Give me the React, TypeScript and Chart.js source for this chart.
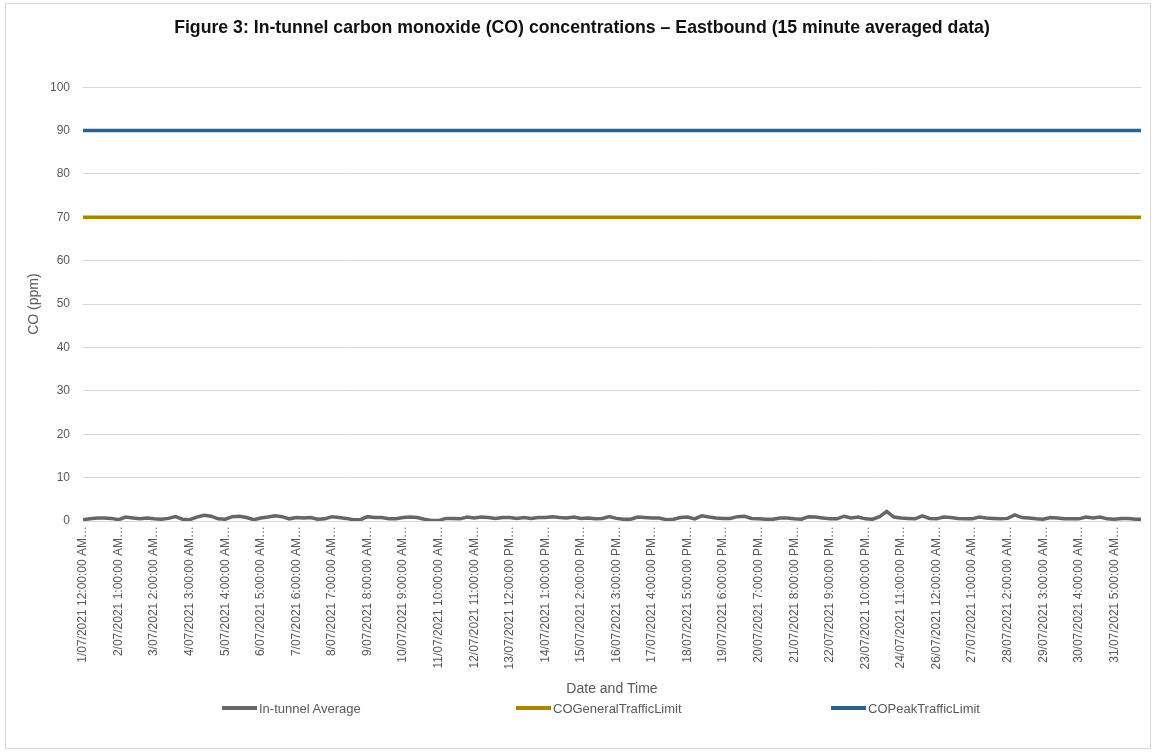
import { useEffect, useRef } from "react";
import { Chart, registerables } from "chart.js";

Chart.register(...registerables);

// ---------- data ----------
const xTickLabels = [
  "1/07/2021 12:00:00 AM",
  "2/07/2021 1:00:00 AM",
  "3/07/2021 2:00:00 AM",
  "4/07/2021 3:00:00 AM",
  "5/07/2021 4:00:00 AM",
  "6/07/2021 5:00:00 AM",
  "7/07/2021 6:00:00 AM",
  "8/07/2021 7:00:00 AM",
  "9/07/2021 8:00:00 AM",
  "10/07/2021 9:00:00 AM",
  "11/07/2021 10:00:00 AM",
  "12/07/2021 11:00:00 AM",
  "13/07/2021 12:00:00 PM",
  "14/07/2021 1:00:00 PM",
  "15/07/2021 2:00:00 PM",
  "16/07/2021 3:00:00 PM",
  "17/07/2021 4:00:00 PM",
  "18/07/2021 5:00:00 PM",
  "19/07/2021 6:00:00 PM",
  "20/07/2021 7:00:00 PM",
  "21/07/2021 8:00:00 PM",
  "22/07/2021 9:00:00 PM",
  "23/07/2021 10:00:00 PM",
  "24/07/2021 11:00:00 PM",
  "26/07/2021 12:00:00 AM",
  "27/07/2021 1:00:00 AM",
  "28/07/2021 2:00:00 AM",
  "29/07/2021 3:00:00 AM",
  "30/07/2021 4:00:00 AM",
  "31/07/2021 5:00:00 AM",
];

// quarter-hour samples between consecutive axis labels (25 hours)
const samplesPerLabel = 100;
// quarter-hour samples between the read-off values below (5 hours)
const samplesPerReading = 20;
// index of the final 15-minute sample in July 2021
const lastSample = 2975;

// In-tunnel average CO (ppm), read every 5 hours from the picture
const inTunnelAverage = [
  0.3, 0.5, 0.7, 0.7, 0.6, 0.3, 0.9, 0.7, 0.5, 0.7,
  0.5, 0.4, 0.6, 1.0, 0.4, 0.3, 0.9, 1.3, 1.1, 0.5,
  0.4, 1.0, 1.1, 0.8, 0.3, 0.7, 0.9, 1.2, 1.0, 0.5,
  0.8, 0.7, 0.8, 0.4, 0.5, 1.0, 0.8, 0.6, 0.3, 0.3,
  1.0, 0.8, 0.8, 0.5, 0.5, 0.8, 0.9, 0.8, 0.4, 0.1,
  0.1, 0.6, 0.6, 0.5, 0.9, 0.7, 0.9, 0.8, 0.6, 0.8,
  0.8, 0.6, 0.8, 0.6, 0.8, 0.8, 1.0, 0.8, 0.7, 0.9,
  0.6, 0.7, 0.5, 0.6, 1.0, 0.6, 0.4, 0.4, 0.9, 0.8,
  0.7, 0.7, 0.3, 0.4, 0.8, 0.9, 0.5, 1.2, 0.9, 0.7,
  0.6, 0.6, 1.0, 1.1, 0.6, 0.5, 0.4, 0.4, 0.7, 0.7,
  0.5, 0.4, 1.0, 0.9, 0.7, 0.5, 0.5, 1.1, 0.7, 0.9,
  0.5, 0.4, 1.0, 2.2, 0.9, 0.7, 0.6, 0.5, 1.2, 0.6,
  0.5, 0.9, 0.8, 0.6, 0.5, 0.5, 0.9, 0.7, 0.6, 0.5,
  0.6, 1.4, 0.8, 0.7, 0.5, 0.4, 0.8, 0.7, 0.5, 0.5,
  0.5, 0.9, 0.7, 0.9, 0.5, 0.4, 0.6, 0.6, 0.4, 0.4,
];

const generalTrafficLimit = 70;
const peakTrafficLimit = 90;

const seriesNames = ["In-tunnel Average", "COGeneralTrafficLimit", "COPeakTrafficLimit"];
const seriesColors = ["#666666", "#AD8400", "#29618F"];

const titleText =
  "Figure 3: In-tunnel carbon monoxide (CO) concentrations \u2013 Eastbound (15 minute averaged data)";
const xTitle = "Date and Time";
const yTitle = "CO (ppm)";

const yMin = 0;
const yMax = 100;
const yStep = 10;

// ---------- styles ----------
const FONT = '"Liberation Sans", Arial, sans-serif';
const TEXT = "#595959";
const GRID = "#d9d9d9";
const legendLefts = [222, 516, 831];

export default function App() {
  const ref = useRef<HTMLCanvasElement>(null);

  useEffect(() => {
    if (!ref.current) return;
    Chart.defaults.font.family = FONT;

    const avgPoints = inTunnelAverage.map((v, i) => ({
      x: Math.min(i * samplesPerReading, lastSample),
      y: v,
    }));
    const flat = (v: number) => [
      { x: 0, y: v },
      { x: lastSample, y: v },
    ];

    const chart = new Chart(ref.current, {
      type: "line",
      data: {
        datasets: [
          {
            label: seriesNames[0],
            data: avgPoints,
            borderColor: seriesColors[0],
            backgroundColor: seriesColors[0],
            borderWidth: 3.5,
            pointRadius: 0,
            tension: 0,
          },
          {
            label: seriesNames[1],
            data: flat(generalTrafficLimit),
            borderColor: seriesColors[1],
            backgroundColor: seriesColors[1],
            borderWidth: 3.5,
            pointRadius: 0,
          },
          {
            label: seriesNames[2],
            data: flat(peakTrafficLimit),
            borderColor: seriesColors[2],
            backgroundColor: seriesColors[2],
            borderWidth: 3.5,
            pointRadius: 0,
          },
        ],
      },
      options: {
        responsive: false,
        animation: false,
        events: [],
        layout: { padding: { left: 23, right: 15, top: 0, bottom: 53 } },
        plugins: {
          legend: { display: false },
          tooltip: { enabled: false },
          title: {
            display: true,
            text: titleText,
            color: "#111111",
            font: { family: FONT, size: 17.7, weight: "bold" },
            padding: { top: 17, bottom: 49 },
          },
        },
        scales: {
          x: {
            type: "linear",
            min: 0,
            max: lastSample,
            grid: { display: false, drawTicks: false },
            border: { display: true, color: GRID },
            afterBuildTicks: (scale: any) => {
              scale.ticks = xTickLabels.map((_, k) => ({ value: k * samplesPerLabel }));
            },
            afterFit: (scale: any) => {
              scale.height = 179;
            },
            ticks: {
              autoSkip: false,
              maxRotation: 90,
              minRotation: 90,
              padding: 5,
              color: TEXT,
              font: { family: FONT, size: 12 },
              callback: (v: any) => {
                const k = Math.round(Number(v) / samplesPerLabel);
                return xTickLabels[k] ? xTickLabels[k] + "\u2026" : "";
              },
            },
            title: {
              display: true,
              text: xTitle,
              color: TEXT,
              font: { family: FONT, size: 14 },
              padding: { top: 0, bottom: 2 },
            },
          },
          y: {
            min: yMin,
            max: yMax,
            afterFit: (scale: any) => {
              scale.width = 60;
            },
            ticks: {
              stepSize: yStep,
              padding: 13,
              color: TEXT,
              font: { family: FONT, size: 12 },
            },
            grid: { color: GRID, drawTicks: false, lineWidth: 1 },
            border: { display: false },
            title: {
              display: true,
              text: yTitle,
              color: TEXT,
              font: { family: FONT, size: 14 },
              padding: { top: 3, bottom: 0 },
            },
          },
        },
      } as any,
    });

    return () => chart.destroy();
  }, []);

  return (
    <div
      style={{
        position: "absolute",
        left: 0,
        top: 0,
        width: 1156,
        height: 753,
        background: "#ffffff",
        fontFamily: FONT,
      }}
    >
      <div
        style={{
          position: "absolute",
          left: 5,
          top: 3,
          width: 1146,
          height: 746,
          border: "1px solid #d9d9d9",
          boxSizing: "border-box",
        }}
      />
      <canvas
        ref={ref}
        width={1156}
        height={753}
        style={{ position: "absolute", left: 0, top: 0 }}
      />
      {seriesNames.map((name, i) => (
        <div
          key={name}
          style={{
            position: "absolute",
            left: legendLefts[i],
            top: 700,
            height: 16,
            display: "flex",
            alignItems: "center",
            fontSize: 13,
            color: TEXT,
            whiteSpace: "nowrap",
          }}
        >
          <span
            style={{
              display: "inline-block",
              width: 35,
              height: 4,
              background: seriesColors[i],
              marginRight: 2,
            }}
          />
          <span>{name}</span>
        </div>
      ))}
    </div>
  );
}
